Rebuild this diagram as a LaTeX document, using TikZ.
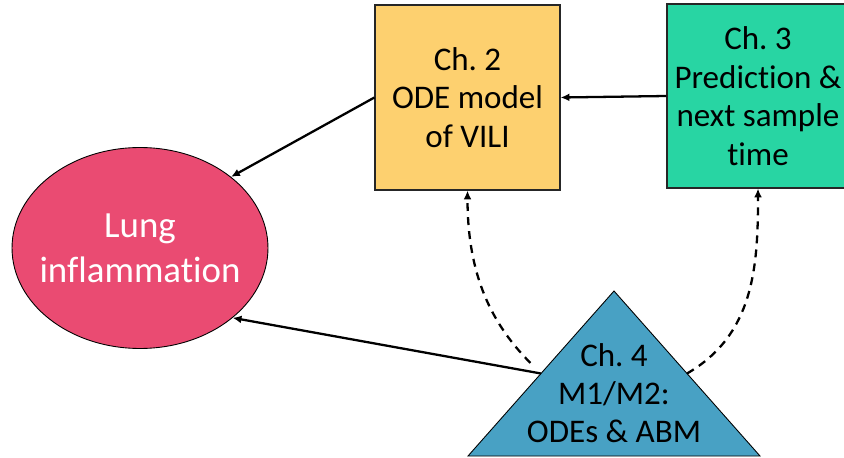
\documentclass[tikz,border=0pt]{standalone}
\usepackage{fontspec}
\setmainfont{Carlito}[Ligatures=NoCommon]
\frenchspacing
\usetikzlibrary{arrows.meta,shapes.geometric,calc}
\definecolor{lungred}{RGB}{234,75,114}
\definecolor{odeyellow}{RGB}{253,208,111}
\definecolor{predgreen}{RGB}{40,213,163}
\definecolor{abmblue}{RGB}{72,161,196}

\begin{document}
\begin{tikzpicture}[x=0.02cm,y=0.02cm,
  chbox/.style={draw=black!85,line width=0.7pt,align=center,inner sep=0pt,
    font=\fontsize{18.8}{22}\selectfont},
  >={Latex[length=5pt,width=4.5pt]}]
\clip (0,0) rectangle (844,457);
\node[ellipse,draw,line width=0.5pt,fill=lungred,inner sep=0pt,
  minimum width=5.12cm,minimum height=4.02cm,
  label={[text=white,align=center,font=\fontsize{21}{25.5}\selectfont]center:Lung\\inflammation}]
  (A) at (140,209) {};
\node[chbox,fill=odeyellow,minimum width=3.7cm,minimum height=3.7cm]
  (B) at (467.5,359.5) {Ch. 2\\ODE model\\of VILI};
\node[chbox,fill=predgreen,minimum width=3.64cm,minimum height=3.68cm]
  (C) at (758,361) {Ch. 3\\Prediction \&\\next sample\\time};
% triangle for chapter 4
\coordinate (tl) at (468,1);
\coordinate (tr) at (760,1);
\coordinate (tt) at (614,166);
\filldraw[fill=abmblue,draw=black,line width=0.5pt] (tl) -- (tt) -- (tr) -- cycle;
\node[align=center,font=\fontsize{18.8}{21.6}\selectfont] (D) at (614,64) {Ch. 4\\M1/M2:\\ODEs \& ABM};
\coordinate (dl) at ($(tl)!0.5!(tt)$);
\coordinate (dr) at ($(tr)!0.5!(tt)$);
\path[->,line width=1.3pt]
(C.west) edge (B.east)
(B.west) edge (A.38)
(dl) edge (A.-37);
\path[->,line width=1.3pt,dash pattern=on 4.5pt off 3.5pt]
(dl) edge[out=135,in=-90,shorten <=0.3cm] (B.south)
(dr) edge[out=30,in=-90] (C.south);
\end{tikzpicture}
\end{document}
